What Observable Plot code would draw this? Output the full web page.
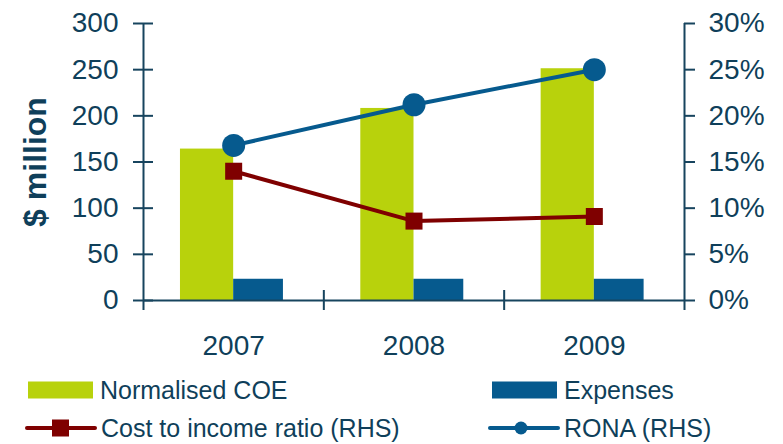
<!DOCTYPE html>
<html>
<head>
<meta charset="utf-8">
<script src="https://cdn.jsdelivr.net/npm/d3@7"></script>
<script src="https://cdn.jsdelivr.net/npm/@observablehq/plot@0.6"></script>
<style>
  html, body { margin: 0; padding: 0; background: #ffffff; }
  #chart { position: relative; width: 783px; height: 444px; font-family: "Liberation Sans", Arial, sans-serif; }
  #legend { position: absolute; left: 0; top: 370px; }
</style>
</head>
<body>
<div id="chart">
  <div id="plot"></div>
  <div id="legend"></div>
</div>
<script>
// ---- data ----
const years = ["2007", "2008", "2009"];
const normalisedCOE = [164, 208, 251];
const expenses = [23, 23, 23];
const costToIncome = [14.0, 8.6, 9.1];   // % (RHS)
const rona = [16.8, 21.2, 25.0];         // % (RHS)
const yTicks = [0, 50, 100, 150, 200, 250, 300];
const pctTickLabels = ["0%", "5%", "10%", "15%", "20%", "25%", "30%"];
const seriesNames = ["Normalised COE", "Expenses", "Cost to income ratio (RHS)", "RONA (RHS)"];

// ---- style ----
const green = "#b8d20c";
const blue = "#065a8e";
const maroon = "#7f0000";
const textColor = "#0f3f5a";
const axisColor = "#17445e";
const pctToLeft = 10; // 30% on RHS == 300 on LHS

const rows = years.map((year, i) => ({
  year, i,
  coe: normalisedCOE[i],
  exp: expenses[i],
  cir: costToIncome[i],
  rona: rona[i]
}));

const chart = Plot.plot({
  width: 783,
  height: 370,
  marginLeft: 143,
  marginRight: 99,
  marginTop: 23,
  marginBottom: 70,
  style: { fontFamily: "'Liberation Sans', Arial, sans-serif", background: "#ffffff", color: textColor, overflow: "visible" },
  x: { type: "linear", domain: [0, years.length], axis: null },
  y: { domain: [0, 300], axis: null },
  marks: [
    // bars
    Plot.rectY(rows, { x1: d => d.i + 0.205, x2: d => d.i + 0.5, y: "coe", fill: green }),
    Plot.rectY(rows, { x1: d => d.i + 0.5, x2: d => d.i + 0.776, y: "exp", fill: blue }),
    // axes lines
    Plot.ruleY([0], { stroke: axisColor, strokeWidth: 2 }),
    Plot.ruleX([0, years.length], { stroke: axisColor, strokeWidth: 2, insetBottom: -10 }),
    Plot.ruleY(yTicks, { y: d => d, x1: 0, x2: 0, insetLeft: -10, insetRight: -10, stroke: axisColor, strokeWidth: 2 }),
    Plot.ruleY(yTicks, { y: d => d, x1: years.length, x2: years.length, insetLeft: 0, insetRight: -11, stroke: axisColor, strokeWidth: 2 }),
    Plot.ruleX(d3.range(1, years.length), { x: d => d, y1: 0, y2: 0, insetTop: -10, insetBottom: -10, stroke: axisColor, strokeWidth: 2 }),
    // tick labels
    Plot.text(yTicks, { x: 0, y: d => d, text: d => String(d), dx: -25, textAnchor: "end", fontSize: 28, fill: textColor }),
    Plot.text(yTicks, { x: years.length, y: d => d, text: (d, i) => pctTickLabels[i], dx: 24, textAnchor: "start", fontSize: 28, fill: textColor }),
    Plot.text(rows, { x: d => d.i + 0.5, y: 0, text: "year", dy: 46, fontSize: 28, fill: textColor }),
    Plot.text(["$ million"], { frameAnchor: "left", textAnchor: "middle", lineAnchor: "middle", rotate: -90, dx: -108, fontSize: 32, fontWeight: "bold", fill: textColor }),
    // lines
    Plot.line(rows, { x: d => d.i + 0.5, y: d => d.cir * pctToLeft, stroke: maroon, strokeWidth: 4 }),
    Plot.dot(rows, { x: d => d.i + 0.5, y: d => d.cir * pctToLeft, symbol: "square", r: 9.6, fill: maroon }),
    Plot.line(rows, { x: d => d.i + 0.5, y: d => d.rona * pctToLeft, stroke: blue, strokeWidth: 4 }),
    Plot.dot(rows, { x: d => d.i + 0.5, y: d => d.rona * pctToLeft, r: 11.5, fill: blue })
  ]
});
document.getElementById("plot").appendChild(chart);

// ---- legend ----
const lg = d3.select("#legend").append("svg").attr("width", 783).attr("height", 74)
  .style("font-family", "'Liberation Sans', Arial, sans-serif");
const items = [
  { name: seriesNames[0], type: "bar", color: green, x: 28, y: 20 },
  { name: seriesNames[1], type: "bar", color: blue, x: 492, y: 20 },
  { name: seriesNames[2], type: "square", color: maroon, x: 28, y: 58 },
  { name: seriesNames[3], type: "circle", color: blue, x: 491, y: 58 }
];
items.forEach(it => {
  const g = lg.append("g").attr("transform", `translate(${it.x},${it.y})`);
  if (it.type === "bar") {
    g.append("rect").attr("x", 0).attr("y", -8.5).attr("width", 65).attr("height", 17).attr("fill", it.color);
  } else {
    g.append("line").attr("x1", -1).attr("x2", 67).attr("y1", 0).attr("y2", 0)
      .attr("stroke", it.color).attr("stroke-width", 4).attr("stroke-linecap", "round");
    if (it.type === "square") {
      g.append("rect").attr("x", 24).attr("y", -8.5).attr("width", 17).attr("height", 17).attr("fill", it.color);
    } else {
      g.append("circle").attr("cx", 30).attr("cy", 0).attr("r", 6.5).attr("fill", it.color);
    }
  }
  g.append("text").attr("x", it.type === "bar" ? 72 : 73).attr("y", 0).attr("dy", "0.36em")
    .attr("font-size", 25).attr("fill", textColor).text(it.name);
});
</script>
</body>
</html>
